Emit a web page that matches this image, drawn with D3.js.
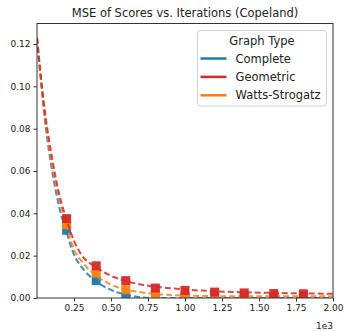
<!DOCTYPE html>
<html>
<head>
<meta charset="utf-8">
<script src="https://cdn.jsdelivr.net/npm/d3@7"></script>
<style>
  body { margin: 0; background: #fff; }
  text { font-family: "DejaVu Sans", sans-serif; fill: #222; }
</style>
</head>
<body>
<div id="chart"></div>
<script>
// measured points (markers)
const iterations = [200, 400, 600, 800, 1000, 1200, 1400, 1600, 1800];
const complete  = [0.0320, 0.0082, 0.0008, 0.0002, 0.0001, 0.0001, 0.0001, 0.0001, 0.0001];
const watts     = [0.0346, 0.0118, 0.0039, 0.0019, 0.0008, 0.0005, 0.0004, 0.0003, 0.0003];
const geometric = [0.0375, 0.0152, 0.0082, 0.0047, 0.0036, 0.0028, 0.0024, 0.0021, 0.0020];

// fitted (dashed) curves
const fitX         = [0, 50, 100, 150, 200, 250, 300, 400, 500, 600, 700, 800, 900, 1000, 1200, 1400, 1600, 1800, 2000];
const completeFit  = [0.123, 0.086, 0.061, 0.043, 0.031, 0.0205, 0.0148, 0.0078, 0.0038, 0.0016, 0.0004, 0, 0, 0, 0, 0, 0, 0, 0];
const wattsFit     = [0.123, 0.088, 0.064, 0.047, 0.034, 0.0228, 0.0175, 0.0105, 0.0063, 0.0040, 0.0027, 0.0019, 0.0014, 0.0011, 0.0009, 0.0008, 0.0008, 0.0008, 0.0008];
const geometricFit = [0.123, 0.090, 0.067, 0.049, 0.037, 0.027, 0.0205, 0.0145, 0.0105, 0.0080, 0.0064, 0.0053, 0.0046, 0.0040, 0.0032, 0.0027, 0.0024, 0.0022, 0.0020];

const xTicks = [250, 500, 750, 1000, 1250, 1500, 1750, 2000];
const yTicks = [0, 0.02, 0.04, 0.06, 0.08, 0.10, 0.12];

const series = [
    { name: "Complete", color: "#1f77b4", pts: complete, fit: completeFit },
    { name: "Geometric", color: "#d62728", pts: geometric, fit: geometricFit },
    { name: "Watts-Strogatz", color: "#ff7f0e", pts: watts, fit: wattsFit }
];
// drawing order: blue, orange, red on top
const drawOrder = [series[0], series[2], series[1]];

const W = 344, H = 331;
const margin = { top: 23.5, right: 11, bottom: 33, left: 37 };
const width = W - margin.left - margin.right,
    height = H - margin.top - margin.bottom;

const svg = d3.select("#chart").append("svg")
    .attr("width", W)
    .attr("height", H);

svg.append("text")
    .text("MSE of Scores vs. Iterations (Copeland)")
    .attr("x", margin.left + width / 2)
    .attr("y", 17)
    .attr("text-anchor", "middle")
    .attr("font-size", 11.5);

const g = svg.append("g")
    .attr("transform", "translate(" + margin.left + "," + margin.top + ")");

const xScale = d3.scaleLinear().domain([0, 2000]).range([0, width]);
const yScale = d3.scaleLinear().domain([0, 0.1297]).range([height, 0]);

g.append("clipPath").attr("id", "clip")
    .append("rect").attr("width", width).attr("height", height);

const plot = g.append("g").attr("clip-path", "url(#clip)");

const line = d3.line()
    .x(d => xScale(d[0]))
    .y(d => yScale(d[1]))
    .curve(d3.curveMonotoneX);

drawOrder.forEach(s => {
    plot.append("path")
        .datum(fitX.map((x, i) => [x, s.fit[i]]))
        .attr("d", line)
        .attr("fill", "none")
        .attr("stroke", s.color)
        .attr("stroke-opacity", 0.85)
        .attr("stroke-width", 2)
        .attr("stroke-dasharray", "6,3");

    plot.selectAll(null)
        .data(iterations.map((x, i) => [x, s.pts[i]]))
        .enter()
        .append("rect")
        .attr("x", d => xScale(d[0]) - 4.5)
        .attr("y", d => yScale(d[1]) - 4.5)
        .attr("width", 9)
        .attr("height", 9)
        .attr("fill", s.color)
        .attr("fill-opacity", 0.95);
});

// axes
const xAxis = g.append("g")
    .attr("transform", "translate(0," + height + ")")
    .call(d3.axisBottom(xScale).tickValues(xTicks).tickSize(3.5).tickPadding(3)
        .tickFormat(d => (d / 1000).toFixed(2)));
const yAxis = g.append("g")
    .call(d3.axisLeft(yScale).tickValues(yTicks).tickSize(3.5).tickPadding(3)
        .tickFormat(d => d.toFixed(2)));

[xAxis, yAxis].forEach(a => {
    a.select(".domain").remove();
    a.selectAll("text").attr("font-size", 9).attr("font-family", "DejaVu Sans").attr("fill", "#222");
    a.selectAll("line").attr("stroke", "#333");
});

g.append("rect")
    .attr("width", width)
    .attr("height", height)
    .attr("fill", "none")
    .attr("stroke", "#333")
    .attr("stroke-width", 1);

svg.append("text")
    .text("1e3")
    .attr("x", W - 11)
    .attr("y", 329)
    .attr("text-anchor", "end")
    .attr("font-size", 9);

// legend
const legend = svg.append("g").attr("transform", "translate(197.5,30.5)");
legend.append("rect")
    .attr("width", 129)
    .attr("height", 75.5)
    .attr("rx", 3)
    .attr("fill", "#fff")
    .attr("fill-opacity", 0.85)
    .attr("stroke", "#d0d0d0");
legend.append("text")
    .text("Graph Type")
    .attr("x", 64.5)
    .attr("y", 14.5)
    .attr("text-anchor", "middle")
    .attr("font-size", 11.5);
series.forEach((s, i) => {
    const yy = 28 + i * 18.4;
    legend.append("line")
        .attr("x1", 3).attr("x2", 29)
        .attr("y1", yy).attr("y2", yy)
        .attr("stroke", s.color)
        .attr("stroke-width", 2.5);
    legend.append("text")
        .text(s.name)
        .attr("x", 38)
        .attr("y", yy + 4)
        .attr("font-size", 11.5);
});
</script>
</body>
</html>
